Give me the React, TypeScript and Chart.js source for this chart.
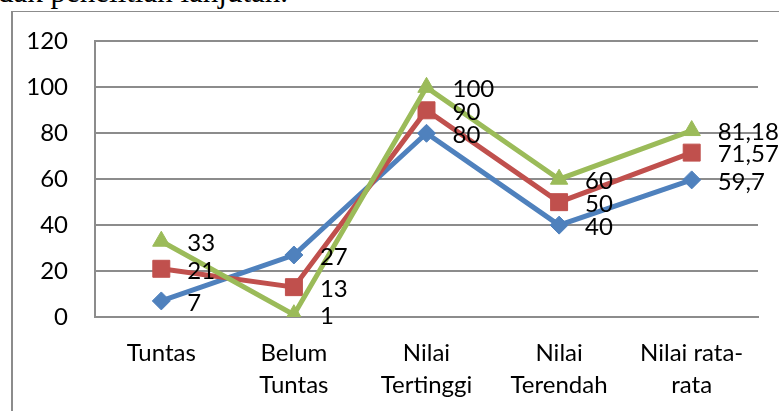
import React, { useEffect, useRef } from "react";
import { Chart, registerables } from "chart.js";

Chart.register(...registerables);

const categories: string[][] = [
  ["Tuntas"],
  ["Belum", "Tuntas"],
  ["Nilai", "Tertinggi"],
  ["Nilai", "Terendah"],
  ["Nilai rata-", "rata"],
];
const seriesBlue = [7, 27, 80, 40, 59.7];
const seriesRed = [21, 13, 90, 50, 71.57];
const seriesGreen = [33, 1, 100, 60, 81.18];
const yTicks = [0, 20, 40, 60, 80, 100, 120];

const FONT = "Lato, 'Open Sans', sans-serif";
const FSIZE = 24;

const fmt = (v: number) => String(v).replace(".", ",");

const labelPlugin = {
  id: "pointLabels",
  afterDatasetsDraw(chart: any) {
    const ctx = chart.ctx;
    ctx.save();
    ctx.font = `${FSIZE}px ${FONT}`;
    ctx.fillStyle = "#000";
    ctx.textAlign = "left";
    ctx.textBaseline = "middle";
    chart.data.datasets.forEach((ds: any, i: number) => {
      const meta = chart.getDatasetMeta(i);
      meta.data.forEach((pt: any, j: number) => {
        ctx.fillText(fmt(ds.data[j]), pt.x + 26, pt.y + 2);
      });
    });
    ctx.restore();
  },
};

export default function App() {
  const ref = useRef<HTMLCanvasElement | null>(null);
  useEffect(() => {
    if (!ref.current) return;
    const chart = new Chart(ref.current, {
      type: "line",
      data: {
        labels: categories,
        datasets: [
          {
            label: "Series 1",
            data: seriesBlue,
            borderColor: "#4F81BD",
            backgroundColor: "#4F81BD",
            borderWidth: 5,
            pointStyle: "rectRot",
            pointRadius: 9,
            pointBorderWidth: 1,
            tension: 0,
            order: 3,
          },
          {
            label: "Series 2",
            data: seriesRed,
            borderColor: "#C0504D",
            backgroundColor: "#C0504D",
            borderWidth: 5,
            pointStyle: "rect",
            pointRadius: 12,
            pointBorderWidth: 1,
            tension: 0,
            order: 2,
          },
          {
            label: "Series 3",
            data: seriesGreen,
            borderColor: "#9BBB59",
            backgroundColor: "#9BBB59",
            borderWidth: 5,
            pointStyle: "triangle",
            pointRadius: 10,
            pointBorderWidth: 1,
            tension: 0,
            order: 1,
          },
        ],
      },
      options: {
        animation: false,
        responsive: false,
        maintainAspectRatio: false,
        layout: { padding: { left: 0, top: 40, right: 21, bottom: 0 } },
        plugins: {
          legend: { display: false },
          tooltip: { enabled: false },
        },
        scales: {
          x: {
            offset: true,
            grid: { display: false, drawTicks: false },
            border: { display: true, color: "#8c8c8c", width: 2 },
            ticks: {
              color: "#000",
              padding: 20,
              maxRotation: 0,
              autoSkip: false,
              font: { family: FONT, size: FSIZE, lineHeight: "32px" } as any,
            },
            afterFit: (s: any) => {
              s.height = 94;
            },
          },
          y: {
            min: 0,
            max: 120,
            afterBuildTicks: (s: any) => {
              s.ticks = yTicks.map((v) => ({ value: v }));
            },
            grid: { color: "#8c8c8c", lineWidth: 2, drawTicks: false },
            border: { display: true, color: "#8c8c8c", width: 2 },
            ticks: {
              color: "#000",
              padding: 27,
              font: { family: FONT, size: FSIZE },
            },
            afterFit: (s: any) => {
              s.width = 95;
            },
          },
        },
      },
      plugins: [labelPlugin],
    });
    return () => chart.destroy();
  }, []);

  return (
    <div style={{ position: "fixed", left: 0, top: 0, width: 779, height: 411, background: "#fff", overflow: "hidden" }}>
      <div
        style={{
          position: "absolute",
          left: -2,
          top: -26,
          fontFamily: "'Liberation Serif', 'Times New Roman', serif",
          fontSize: 31,
          lineHeight: "36px",
          whiteSpace: "nowrap",
          color: "#000",
        }}
      >
        dak penelitian lanjutan.
      </div>
      <div
        style={{
          position: "absolute",
          left: 11,
          top: 11,
          width: 800,
          height: 500,
          borderLeft: "2px solid #8c8c8c",
          borderTop: "1.5px solid #8c8c8c",
        }}
      />
      <canvas ref={ref} width={779} height={411} style={{ position: "absolute", left: 0, top: 0 }} />
    </div>
  );
}
